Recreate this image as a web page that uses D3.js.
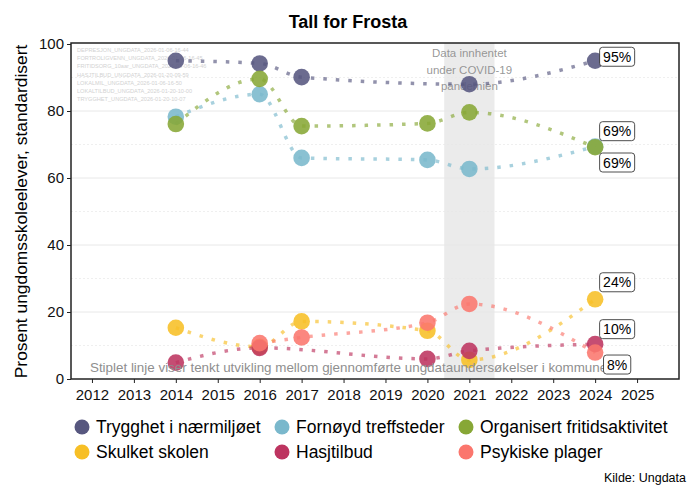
<!DOCTYPE html>
<html><head><meta charset="utf-8">
<script src="https://cdn.jsdelivr.net/npm/d3@7"></script>
<style>body{margin:0;background:#fff}svg{font-family:"Liberation Sans",Arial,sans-serif}</style>
</head><body><svg id="c" width="696" height="495"></svg>
<script>
const seriesNames = ["Trygghet i nærmiljøet","Fornøyd treffsteder","Organisert fritidsaktivitet","Skulket skolen","Hasjtilbud","Psykiske plager"];
const seriesColors = ["#57577f","#7ab8cc","#87a736","#f7bf26","#bd3460","#fb766d"];
const years = [2014,2016,2017,2020,2021,2024];
const trygghet = [95.0,94.2,90.1,null,88.0,95.0];
const fornoyd = [78.3,85.0,66.0,65.4,62.7,69.4];
const organisert = [76.1,89.6,75.5,76.3,79.6,69.2];
const skulket = [15.3,9.6,17.2,14.4,5.7,23.8];
const hasj = [4.9,9.3,null,6.0,8.4,10.4];
const psykiske = [null,10.7,12.4,16.8,22.4,7.9];
const xTicks = [2012,2013,2014,2015,2016,2017,2018,2019,2020,2021,2022,2023,2024,2025];
const yTicks = [0,20,40,60,80,100];
const fileNotes = ["DEPRESJON_UNGDATA_2026-01-06-16-44","FORTROLIGVENN_UNGDATA_2026-01-06-16-45","FRITIDSORG_10aar_UNGDATA_2026-01-06-16-46","HASJTILBUD_UNGDATA_2026-01-20-09-59","LOKALMIL_UNGDATA_2026-01-06-16-50","LOKALTILBUD_UNGDATA_2026-01-20-10-00","TRYGGHET_UNGDATA_2026-01-20-10-07"];
const covidBand = [2020.4, 2021.6];

const allValues = [trygghet,fornoyd,organisert,skulket,hasj,psykiske];
const series = seriesNames.map((n,i)=>({name:n,color:seriesColors[i],
  pts: years.map((y,j)=>({x:y,y:allValues[i][j]})).filter(d=>d.y!==null)}));
const labelDy = [-4,16,-16,-17,-15,12];

const svg = d3.select("#c");
const L=71,R=679,T=44,B=379;
const x = d3.scaleLinear().domain([2011.5,2026]).range([L,R]);
const y = d3.scaleLinear().domain([0,100]).range([B,T]);

// grid
const g = svg.append("g");
d3.range(10,100,20).forEach(v=>g.append("line").attr("x1",L).attr("x2",R).attr("y1",y(v)).attr("y2",y(v))
  .attr("stroke","#e4e4e4").attr("stroke-width",0.6).attr("stroke-dasharray","2 2"));
[20,40,60,80].forEach(v=>g.append("line").attr("x1",L).attr("x2",R).attr("y1",y(v)).attr("y2",y(v))
  .attr("stroke","#e2e2e2").attr("stroke-width",0.8));

// covid band
svg.append("rect").attr("x",x(covidBand[0])).attr("y",T-1).attr("width",x(covidBand[1])-x(covidBand[0]))
  .attr("height",B-T+1).attr("fill","#e6e6e6").attr("opacity",0.8);

// file notes
fileNotes.forEach((t,i)=>svg.append("text").attr("x",77).attr("y",52+i*8.2).text(t)
  .attr("font-size",5.6).attr("fill","#d2d2d2"));

// covid text
["Data innhentet","under COVID-19","pandemien"].forEach((t,i)=>svg.append("text")
  .attr("x",x(2021)).attr("y",57+i*16.5).attr("text-anchor","middle").attr("font-size",11.5)
  .attr("fill","#8c8c8c").attr("fill-opacity",0.9).text(t));

// lines
const line = d3.line().x(d=>x(d.x)).y(d=>y(d.y)).curve(d3.curveMonotoneX);
series.forEach(s=>{
  svg.append("path").attr("d",line(s.pts)).attr("fill","none").attr("stroke",s.color)
   .attr("stroke-opacity",0.65).attr("stroke-width",3.5).attr("stroke-dasharray","3.5 9");
});
// points
series.forEach(s=>{
  svg.selectAll(null).data(s.pts).enter().append("circle").attr("cx",d=>x(d.x)).attr("cy",d=>y(d.y))
   .attr("r",8.3).attr("fill",s.color).attr("fill-opacity",0.88);
});

// annotation
svg.append("text").attr("x",x(2012)-2).attr("y",372).attr("font-size",13.4).attr("fill","#8f8f8f")
  .text("Stiplet linje viser tenkt utvikling mellom gjennomførte ungdataundersøkelser i kommunen");

// labels
series.forEach((s,i)=>{
  const last = s.pts[s.pts.length-1];
  const cx = x(last.x)+22, cy = y(last.y)+labelDy[i];
  const lg = svg.append("g");
  const t = lg.append("text").attr("x",cx).attr("y",cy+5).attr("text-anchor","middle")
    .attr("font-size",14).attr("fill","#000").text(Math.round(last.y)+"%");
  const w = t.node().getComputedTextLength()+7;
  lg.insert("rect","text").attr("x",cx-w/2).attr("y",cy-9.5).attr("width",w).attr("height",19)
    .attr("rx",3).attr("fill","#fff").attr("stroke","#222").attr("stroke-width",0.8);
});

// axes
const xa = svg.append("g").attr("transform",`translate(0,${B})`).call(d3.axisBottom(x).tickValues(xTicks).tickFormat(d3.format("d")).tickSize(4));
const ya = svg.append("g").attr("transform",`translate(${L},0)`).call(d3.axisLeft(y).tickValues(yTicks).tickSize(4));
[xa,ya].forEach(a=>{a.select(".domain").remove();a.selectAll("text").attr("font-size",15).attr("fill","#111")
  .attr("font-family","Liberation Sans, Arial, sans-serif");a.selectAll("line").attr("stroke","#222");});
xa.selectAll("text").attr("dy","0.95em");
svg.append("rect").attr("x",L).attr("y",T-1).attr("width",R-L).attr("height",B-T+1)
  .attr("fill","none").attr("stroke","#222").attr("stroke-width",1.5);

// titles
svg.append("text").attr("x",348).attr("y",28).attr("text-anchor","middle").attr("font-size",18)
  .attr("font-weight","bold").text("Tall for Frosta");
svg.append("text").attr("transform",`translate(27,${(T+B)/2}) rotate(-90)`).attr("text-anchor","middle")
  .attr("font-size",17.4).text("Prosent ungdomsskoleelever, standardisert");

// legend
const legX=[82,282,466], legY=[427,452];
series.forEach((s,i)=>{
  const cx=legX[i%3], cy=legY[Math.floor(i/3)];
  svg.append("circle").attr("cx",cx).attr("cy",cy).attr("r",7.5).attr("fill",s.color);
  svg.append("text").attr("x",cx+14).attr("y",cy+6).attr("font-size",17.5).text(s.name);
});
svg.append("text").attr("x",686).attr("y",482).attr("text-anchor","end").attr("font-size",12.5).text("Kilde: Ungdata");
</script></body></html>
